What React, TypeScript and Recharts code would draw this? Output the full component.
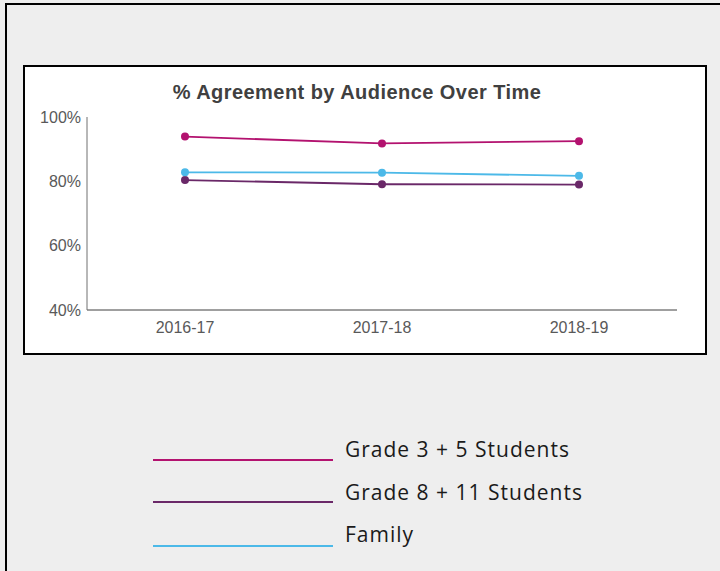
import React from 'react';
import { LineChart, Line, XAxis, YAxis } from 'recharts';

const categories = ['2016-17', '2017-18', '2018-19'];
const grade35 = [93.9, 91.8, 92.5];
const grade811 = [80.4, 79.1, 79.0];
const family = [82.8, 82.7, 81.7];
const yTicks = [40, 60, 80, 100];
const title = '% Agreement by Audience Over Time';

const series = [
  { key: 'g35', name: 'Grade 3 + 5 Students', values: grade35, color: '#b3126f' },
  { key: 'g811', name: 'Grade 8 + 11 Students', values: grade811, color: '#6a2868' },
  { key: 'fam', name: 'Family', values: family, color: '#4cb9e8' },
];

const data = categories.map((c, i) => {
  const row: Record<string, string | number> = { cat: c };
  series.forEach((s) => {
    row[s.key] = s.values[i];
  });
  return row;
});

const tickFont = { fontFamily: '"Liberation Sans", Arial, sans-serif', fontSize: 16, fill: '#595959' };

export default function App() {
  return (
    <div style={{ position: 'absolute', left: 0, top: 0, width: 720, height: 571, background: '#eeeeee', overflow: 'hidden' }}>
      <div style={{ position: 'absolute', left: 5, top: 3, width: 800, height: 700, borderLeft: '2px solid #000', borderTop: '2px solid #000' }} />
      <div style={{ position: 'absolute', left: 23, top: 65, width: 684, height: 290, boxSizing: 'border-box', border: '2px solid #000', background: '#fff' }} />
      <div
        style={{
          position: 'absolute',
          left: 127,
          top: 80,
          width: 460,
          textAlign: 'center',
          fontFamily: '"Liberation Sans", Arial, sans-serif',
          fontWeight: 'bold',
          fontSize: 20,
          letterSpacing: 0.45,
          lineHeight: '24px',
          color: '#404040',
          whiteSpace: 'nowrap',
        }}
      >
        {title}
      </div>
      <div style={{ position: 'absolute', left: 25, top: 67 }}>
        <LineChart width={680} height={286} data={data} margin={{ top: 50, right: 28, bottom: 13, left: 0 }}>
          <XAxis
            dataKey="cat"
            height={30}
            tickLine={false}
            axisLine={{ stroke: '#404040', strokeWidth: 1 }}
            tick={tickFont}
            tickMargin={6}
            padding={{ left: 98, right: 98 }}
            interval={0}
          />
          <YAxis
            width={62}
            domain={[40, 100]}
            ticks={yTicks}
            tickFormatter={(v: number) => `${v}%`}
            tickLine={false}
            axisLine={{ stroke: '#707070', strokeWidth: 1 }}
            tick={tickFont}
            tickMargin={0}
            interval={0}
          />
          {series.map((s) => (
            <Line
              key={s.key}
              dataKey={s.key}
              name={s.name}
              type="linear"
              stroke={s.color}
              strokeWidth={1.8}
              dot={{ r: 4, fill: s.color, stroke: s.color, strokeWidth: 0 }}
              activeDot={false}
              isAnimationActive={false}
            />
          ))}
        </LineChart>
      </div>
      {series.map((s, i) => (
        <div key={s.key} style={{ position: 'absolute', left: 0, top: 0 }}>
          <div
            style={{
              position: 'absolute',
              left: 153,
              top: [459, 501, 545][i],
              width: 180,
              height: 0,
              borderTop: `2px solid ${s.color}`,
            }}
          />
          <div
            style={{
              position: 'absolute',
              left: 345,
              top: [435, 478, 520][i],
              whiteSpace: 'nowrap',
              fontFamily: '"Open Sans", sans-serif',
              fontSize: 21,
              letterSpacing: 1,
              lineHeight: '28px',
              color: '#1a1a1a',
            }}
          >
            {s.name}
          </div>
        </div>
      ))}
    </div>
  );
}
